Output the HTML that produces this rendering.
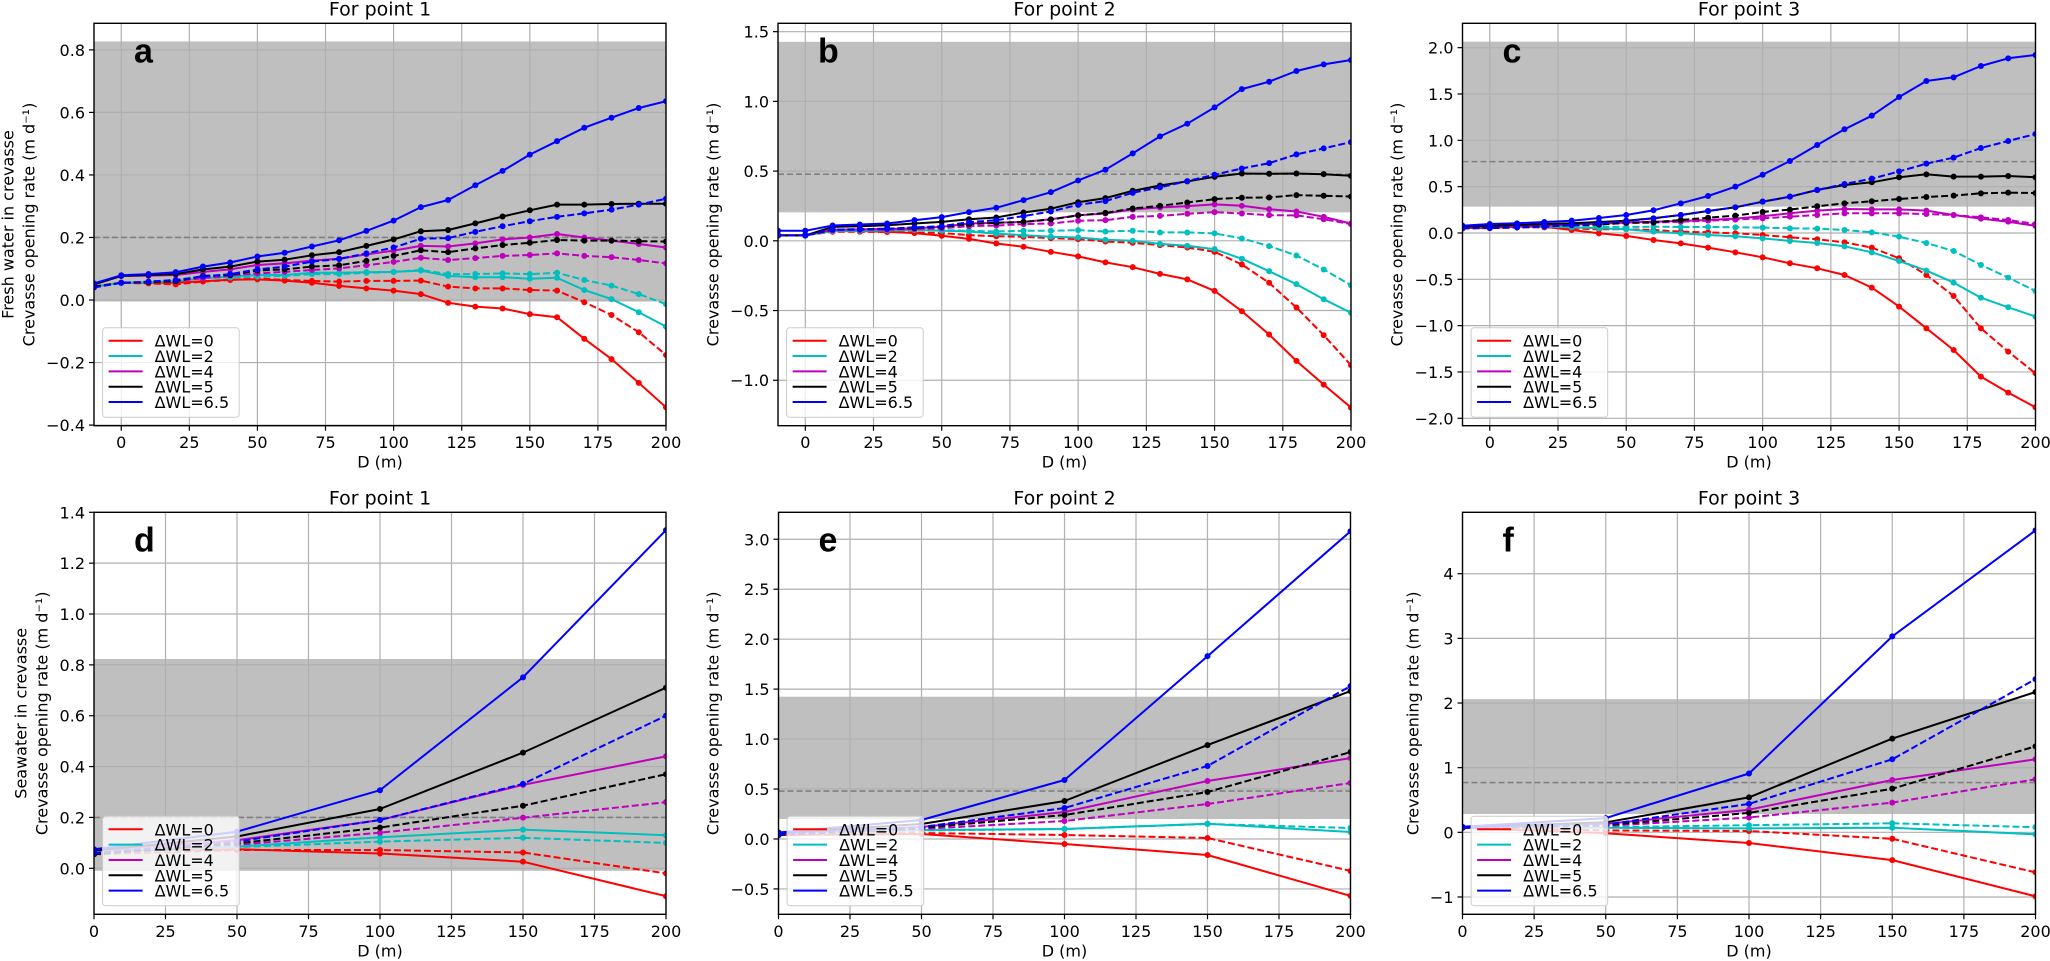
<!DOCTYPE html>
<html><head><meta charset="utf-8"><title>Crevasse opening rate</title>
<style>
html,body{margin:0;padding:0;background:#fff;}
svg{display:block;font-family:"DejaVu Sans","Liberation Sans",sans-serif;}
</style></head>
<body>
<svg id="fig" width="2050" height="961" viewBox="0 0 2050 961" xmlns="http://www.w3.org/2000/svg"></svg>
<script>
const xRow1=[-10,0,10,20,30,40,50,60,70,80,90,100,110,120,130,140,150,160,170,180,190,200];
const xRow2=[0,50,100,150,200];
const xTicks=[0,25,50,75,100,125,150,175,200];
const legendLabels=["ΔWL=0","ΔWL=2","ΔWL=4","ΔWL=5","ΔWL=6.5"];

// Panel a
const aRed=[0.043,0.055,0.055,0.055,0.06,0.065,0.066,0.062,0.055,0.045,0.037,0.03,0.019,-0.009,-0.021,-0.027,-0.045,-0.055,-0.124,-0.189,-0.265,-0.343];
const aRedDash=[0.043,0.055,0.053,0.05,0.059,0.064,0.069,0.064,0.061,0.059,0.061,0.061,0.062,0.043,0.037,0.037,0.032,0.03,-0.007,-0.048,-0.103,-0.176];
const aCyan=[0.043,0.055,0.057,0.06,0.07,0.075,0.08,0.08,0.087,0.087,0.089,0.09,0.094,0.077,0.073,0.073,0.068,0.071,0.032,0.003,-0.039,-0.085];
const aCyanDash=[0.043,0.055,0.057,0.06,0.07,0.072,0.075,0.077,0.083,0.083,0.087,0.09,0.096,0.083,0.083,0.085,0.083,0.087,0.064,0.046,0.019,-0.013];
const aMag=[0.05,0.077,0.078,0.08,0.09,0.098,0.112,0.117,0.126,0.132,0.146,0.158,0.173,0.171,0.181,0.194,0.2,0.211,0.2,0.19,0.179,0.168];
const aMagDash=[0.043,0.055,0.057,0.06,0.07,0.078,0.085,0.09,0.096,0.101,0.111,0.122,0.135,0.128,0.134,0.141,0.144,0.149,0.141,0.137,0.128,0.117];
const aBlk=[0.05,0.077,0.08,0.083,0.098,0.107,0.123,0.129,0.143,0.153,0.173,0.194,0.22,0.224,0.245,0.267,0.287,0.305,0.305,0.307,0.308,0.308];
const aBlkDash=[0.043,0.055,0.057,0.06,0.077,0.08,0.094,0.098,0.107,0.111,0.125,0.141,0.159,0.153,0.165,0.176,0.183,0.192,0.19,0.19,0.188,0.187];
const aBlu=[0.053,0.079,0.083,0.089,0.107,0.12,0.139,0.151,0.171,0.191,0.221,0.254,0.297,0.32,0.367,0.413,0.465,0.508,0.551,0.583,0.614,0.636];
const aBluDash=[0.04,0.055,0.059,0.064,0.075,0.083,0.098,0.107,0.123,0.131,0.149,0.168,0.196,0.198,0.218,0.236,0.252,0.266,0.277,0.289,0.305,0.324];
const aYTicks=[-0.4,-0.2,0,0.2,0.4,0.6,0.8];
const aYLabels=["−0.4","−0.2","0.0","0.2","0.4","0.6","0.8"];

// Panel b
const bRed=[0.04,0.04,0.07,0.07,0.065,0.055,0.036,0.014,-0.019,-0.043,-0.079,-0.112,-0.155,-0.189,-0.237,-0.277,-0.359,-0.505,-0.672,-0.861,-1.031,-1.196];
const bRedDash=[0.04,0.04,0.065,0.065,0.063,0.06,0.055,0.041,0.033,0.029,0.019,0.012,-0.005,-0.014,-0.031,-0.048,-0.079,-0.17,-0.301,-0.478,-0.677,-0.892];
const bCyan=[0.04,0.04,0.07,0.072,0.075,0.078,0.072,0.067,0.05,0.041,0.029,0.024,0.007,0,-0.022,-0.036,-0.06,-0.129,-0.218,-0.311,-0.419,-0.517];
const bCyanDash=[0.04,0.04,0.07,0.072,0.075,0.078,0.077,0.072,0.067,0.072,0.072,0.077,0.067,0.072,0.06,0.06,0.053,0.017,-0.038,-0.105,-0.206,-0.318];
const bMag=[0.04,0.04,0.08,0.082,0.085,0.09,0.1,0.124,0.129,0.136,0.155,0.184,0.196,0.225,0.239,0.249,0.261,0.251,0.227,0.21,0.172,0.124];
const bMagDash=[0.04,0.04,0.075,0.078,0.08,0.085,0.09,0.105,0.11,0.12,0.124,0.144,0.148,0.172,0.179,0.194,0.206,0.196,0.184,0.182,0.155,0.12];
const bBlk=[0.038,0.038,0.1,0.105,0.112,0.124,0.136,0.155,0.167,0.203,0.23,0.277,0.306,0.359,0.397,0.426,0.459,0.483,0.481,0.483,0.478,0.466];
const bBlkDash=[0.038,0.038,0.08,0.083,0.087,0.091,0.1,0.12,0.129,0.136,0.153,0.182,0.2,0.232,0.251,0.275,0.299,0.309,0.311,0.328,0.323,0.318];
const bBlu=[0.072,0.072,0.11,0.117,0.124,0.148,0.17,0.206,0.237,0.292,0.349,0.433,0.51,0.627,0.749,0.84,0.957,1.088,1.141,1.218,1.265,1.297];
const bBluDash=[0.038,0.038,0.081,0.081,0.086,0.096,0.105,0.134,0.148,0.177,0.21,0.258,0.285,0.344,0.383,0.428,0.474,0.519,0.557,0.62,0.663,0.708];
const bYTicks=[-1,-0.5,0,0.5,1,1.5];
const bYLabels=["−1.0","−0.5","0.0","0.5","1.0","1.5"];

// Panel c
const cRed=[0.054,0.054,0.068,0.068,0.032,-0.004,-0.032,-0.076,-0.112,-0.158,-0.209,-0.263,-0.327,-0.381,-0.453,-0.59,-0.795,-1.029,-1.263,-1.55,-1.723,-1.881];
const cRedDash=[0.054,0.054,0.06,0.06,0.05,0.04,0.04,0.032,0.014,0.007,-0.004,-0.022,-0.047,-0.068,-0.101,-0.158,-0.273,-0.453,-0.68,-1.029,-1.281,-1.514];
const cCyan=[0.06,0.07,0.075,0.07,0.06,0.05,0.04,0.014,-0.004,-0.022,-0.036,-0.058,-0.086,-0.108,-0.144,-0.209,-0.302,-0.406,-0.536,-0.698,-0.802,-0.903];
const cCyanDash=[0.06,0.07,0.075,0.075,0.07,0.068,0.065,0.068,0.065,0.065,0.061,0.058,0.05,0.047,0.032,0.007,-0.04,-0.108,-0.194,-0.345,-0.482,-0.626];
const cMag=[0.06,0.07,0.075,0.08,0.09,0.1,0.112,0.122,0.129,0.14,0.155,0.18,0.212,0.241,0.259,0.255,0.255,0.241,0.194,0.155,0.122,0.076];
const cMagDash=[0.06,0.07,0.075,0.08,0.085,0.095,0.105,0.112,0.122,0.133,0.144,0.158,0.176,0.194,0.212,0.212,0.212,0.205,0.194,0.169,0.14,0.097];
const cBlk=[0.07,0.079,0.086,0.097,0.104,0.119,0.133,0.158,0.194,0.237,0.277,0.338,0.392,0.464,0.518,0.547,0.601,0.633,0.608,0.608,0.615,0.601];
const cBlkDash=[0.05,0.054,0.06,0.07,0.083,0.09,0.112,0.115,0.14,0.165,0.187,0.227,0.252,0.288,0.32,0.342,0.367,0.388,0.403,0.428,0.435,0.432];
const cBlu=[0.079,0.097,0.104,0.119,0.133,0.162,0.194,0.245,0.32,0.399,0.5,0.629,0.777,0.95,1.119,1.266,1.468,1.64,1.68,1.802,1.885,1.921];
const cBluDash=[0.05,0.054,0.06,0.07,0.086,0.104,0.129,0.158,0.194,0.237,0.277,0.338,0.392,0.464,0.529,0.586,0.665,0.748,0.813,0.917,0.993,1.068];
const cYTicks=[-2,-1.5,-1,-0.5,0,0.5,1,1.5,2];
const cYLabels=["−2.0","−1.5","−1.0","−0.5","0.0","0.5","1.0","1.5","2.0"];

// Panel d
const dRed=[0.07,0.075,0.058,0.026,-0.11];
const dRedDash=[0.055,0.072,0.072,0.062,-0.02];
const dCyan=[0.07,0.085,0.122,0.152,0.13];
const dCyanDash=[0.055,0.083,0.105,0.12,0.10];
const dMag=[0.07,0.11,0.19,0.328,0.44];
const dMagDash=[0.055,0.092,0.14,0.199,0.26];
const dBlk=[0.07,0.125,0.233,0.455,0.71];
const dBlkDash=[0.055,0.098,0.16,0.246,0.37];
const dBlu=[0.075,0.144,0.307,0.751,1.33];
const dBluDash=[0.06,0.105,0.19,0.332,0.60];
const dYTicks=[0,0.2,0.4,0.6,0.8,1.0,1.2,1.4];
const dYLabels=["0.0","0.2","0.4","0.6","0.8","1.0","1.2","1.4"];

// Panel e
const eRed=[0.04,0.05,-0.05,-0.16,-0.57];
const eRedDash=[0.04,0.06,0.04,0.01,-0.32];
const eCyan=[0.06,0.09,0.10,0.153,0.07];
const eCyanDash=[0.04,0.085,0.10,0.15,0.11];
const eMag=[0.06,0.12,0.27,0.58,0.81];
const eMagDash=[0.04,0.10,0.18,0.35,0.56];
const eBlk=[0.06,0.15,0.38,0.94,1.48];
const eBlkDash=[0.04,0.11,0.24,0.47,0.87];
const eBlu=[0.065,0.19,0.59,1.83,3.08];
const eBluDash=[0.045,0.12,0.31,0.73,1.53];
const eYTicks=[-0.5,0,0.5,1,1.5,2,2.5,3];
const eYLabels=["−0.5","0.0","0.5","1.0","1.5","2.0","2.5","3.0"];

// Panel f
const fRed=[0.07,-0.015,-0.165,-0.43,-0.99];
const fRedDash=[0.07,0.03,0.02,-0.10,-0.62];
const fCyan=[0.08,0.07,0.06,0.07,-0.03];
const fCyanDash=[0.07,0.08,0.11,0.14,0.08];
const fMag=[0.08,0.13,0.35,0.81,1.13];
const fMagDash=[0.07,0.10,0.23,0.46,0.82];
const fBlk=[0.08,0.155,0.54,1.45,2.17];
const fBlkDash=[0.07,0.11,0.30,0.675,1.33];
const fBlu=[0.085,0.22,0.91,3.03,4.67];
const fBluDash=[0.07,0.12,0.44,1.13,2.37];
const fYTicks=[-1,0,1,2,3,4];
const fYLabels=["−1","0","1","2","3","4"];

const colors=["#ff0000","#00bfbf","#bf00bf","#000000","#0000ff"];
const NS="http://www.w3.org/2000/svg";
const svg=document.getElementById("fig");

function mk(parent,tag,attrs,text){
  const e=document.createElementNS(NS,tag);
  for(const k in attrs) e.setAttribute(k,attrs[k]);
  if(text!==undefined) e.textContent=text;
  parent.appendChild(e);
  return e;
}

const panels=[
 {id:"a",L:94,R:666,T:23.3,B:425.7,xd:[-10,200],yd:[-0.402,0.885],band:[-0.005,0.827],ref:0.2,yt:aYTicks,yl:aYLabels,xs:xRow1,
  series:[[aRed,aRedDash],[aCyan,aCyanDash],[aMag,aMagDash],[aBlk,aBlkDash],[aBlu,aBluDash]],title:"For point 1",ylab:["Fresh water in crevasse","Crevasse opening rate (m d⁻¹)"],ylx:[8,29]},
 {id:"b",L:778,R:1351,T:23.3,B:425.7,xd:[-10,200],yd:[-1.326,1.56],band:[0.204,1.427],ref:0.478,yt:bYTicks,yl:bYLabels,xs:xRow1,
  series:[[bRed,bRedDash],[bCyan,bCyanDash],[bMag,bMagDash],[bBlk,bBlkDash],[bBlu,bBluDash]],title:"For point 2",ylab:["Crevasse opening rate (m d⁻¹)"],ylx:[713]},
 {id:"c",L:1462.5,R:2035.5,T:23.3,B:425.7,xd:[-10,200],yd:[-2.08,2.263],band:[0.284,2.065],ref:0.77,yt:cYTicks,yl:cYLabels,xs:xRow1,
  series:[[cRed,cRedDash],[cCyan,cCyanDash],[cMag,cMagDash],[cBlk,cBlkDash],[cBlu,cBluDash]],title:"For point 3",ylab:["Crevasse opening rate (m d⁻¹)"],ylx:[1397]},
 {id:"d",L:94,R:666,T:512.3,B:914.3,xd:[0,200],yd:[-0.181,1.4],band:[-0.01,0.823],ref:0.2,yt:dYTicks,yl:dYLabels,xs:xRow2,
  series:[[dRed,dRedDash],[dCyan,dCyanDash],[dMag,dMagDash],[dBlk,dBlkDash],[dBlu,dBluDash]],title:"For point 1",ylab:["Seawater in crevasse","Crevasse opening rate (m d⁻¹)"],ylx:[21,42]},
 {id:"e",L:778.5,R:1350.5,T:512.3,B:914.3,xd:[0,200],yd:[-0.754,3.27],band:[0.2,1.424],ref:0.48,yt:eYTicks,yl:eYLabels,xs:xRow2,
  series:[[eRed,eRedDash],[eCyan,eCyanDash],[eMag,eMagDash],[eBlk,eBlkDash],[eBlu,eBluDash]],title:"For point 2",ylab:["Crevasse opening rate (m d⁻¹)"],ylx:[713]},
 {id:"f",L:1462.5,R:2035.5,T:512.3,B:914.3,xd:[0,200],yd:[-1.268,4.95],band:[0.283,2.06],ref:0.77,yt:fYTicks,yl:fYLabels,xs:xRow2,
  series:[[fRed,fRedDash],[fCyan,fCyanDash],[fMag,fMagDash],[fBlk,fBlkDash],[fBlu,fBluDash]],title:"For point 3",ylab:["Crevasse opening rate (m d⁻¹)"],ylx:[1413]}
];

const defs=mk(svg,"defs",{});
panels.forEach(p=>{
  const sx=v=>p.L+(v-p.xd[0])/(p.xd[1]-p.xd[0])*(p.R-p.L);
  const sy=v=>p.B-(v-p.yd[0])/(p.yd[1]-p.yd[0])*(p.B-p.T);
  const cp=mk(defs,"clipPath",{id:"clip-"+p.id});
  mk(cp,"rect",{x:p.L,y:p.T,width:p.R-p.L,height:p.B-p.T});
  const g=mk(svg,"g",{});
  
  
  const pg=mk(g,"g",{"clip-path":"url(#clip-"+p.id+")"});
  
  
  const band=mk(pg,"rect",{x:p.L,y:sy(p.band[1]),width:p.R-p.L,height:sy(p.band[0])-sy(p.band[1]),fill:"#bfbfbf"});
  
  
  xTicks.forEach(t=>{
    const l=mk(pg,"line",{x1:sx(t),x2:sx(t),y1:p.T,y2:p.B,stroke:"#b0b0b0","stroke-width":1.2});
    
    
  });
  p.yt.forEach(t=>{
    const l=mk(pg,"line",{x1:p.L,x2:p.R,y1:sy(t),y2:sy(t),stroke:"#b0b0b0","stroke-width":1.2});
    
    
  });
  const rl=mk(pg,"line",{x1:p.L,x2:p.R,y1:sy(p.ref),y2:sy(p.ref),stroke:"#808080","stroke-width":1.6,"stroke-dasharray":"6,3"});
  
  
  p.series.forEach((pair,si)=>{
    pair.forEach((arr,di)=>{
      const pts=arr.map((v,i)=>sx(p.xs[i]).toFixed(1)+","+sy(v).toFixed(1)).join(" ");
      const attrs={points:pts,fill:"none",stroke:colors[si],"stroke-width":2,"stroke-linejoin":"round"};
      if(di===1) attrs["stroke-dasharray"]="7,3";
      const pl=mk(pg,"polyline",attrs);
      
      
      arr.forEach((v,i)=>{
        const c=mk(pg,"circle",{cx:sx(p.xs[i]),cy:sy(v),r:3,fill:colors[si]});
        
        
      });
    });
  });
  // spines
  const sp=mk(g,"rect",{x:p.L,y:p.T,width:p.R-p.L,height:p.B-p.T,fill:"none",stroke:"#000","stroke-width":1.4});
  
  
  // x ticks
  const xAxisBase=p.B;
  xTicks.forEach(t=>{
    const tk=mk(g,"line",{x1:sx(t),x2:sx(t),y1:p.B,y2:p.B+5,stroke:"#000","stroke-width":1.2});
    
    
    const tl=mk(g,"text",{x:sx(t),y:p.B+22.5,"text-anchor":"middle","font-size":16,fill:"#000"},String(t));
    
    
  });
  p.yt.forEach((t,i)=>{
    const tk=mk(g,"line",{x1:p.L-5,x2:p.L,y1:sy(t),y2:sy(t),stroke:"#000","stroke-width":1.2});
    
    
    const tl=mk(g,"text",{x:p.L-9,y:sy(t)+6,"text-anchor":"end","font-size":16,fill:"#000"},p.yl[i]);
    
    
  });
  const xt=mk(g,"text",{x:(p.L+p.R)/2,y:p.B+42,"text-anchor":"middle","font-size":16,fill:"#000"},"D (m)");
  
  
  const ti=mk(g,"text",{x:(p.L+p.R)/2,y:p.T-8,"text-anchor":"middle","font-size":19,fill:"#000"},p.title);
  
  
  const cy=(p.T+p.B)/2;
  p.ylab.forEach((s,i)=>{
    const yl=mk(g,"text",{x:0,y:0,"text-anchor":"middle","dominant-baseline":"central","font-size":16,fill:"#000",transform:"translate("+p.ylx[i]+","+cy+") rotate(-90)"},s);
    
    
  });
  const lt=mk(g,"text",{x:p.L+40,y:p.T+39,"font-size":34,"font-weight":"bold","font-family":"Liberation Sans, sans-serif",fill:"#000"},p.id);
  
  
  // legend
  const lx=p.L+8.6, ly=p.B-98;
  const lg=mk(g,"g",{});
  
  
  const lb=mk(lg,"rect",{x:lx,y:ly,width:136.6,height:89.5,rx:3,fill:"#ffffff","fill-opacity":0.8,stroke:"#cccccc","stroke-width":1});
  
  
  legendLabels.forEach((s,i)=>{
    const yy=ly+13+i*15.33;
    const ll=mk(lg,"line",{x1:lx+6,x2:lx+40,y1:yy,y2:yy,stroke:colors[i],"stroke-width":2});
    
    
    const tx=mk(lg,"text",{x:lx+52,y:yy+6,"font-size":16,fill:"#000"},s);
    
    
  });
});
</script>
</body></html>
